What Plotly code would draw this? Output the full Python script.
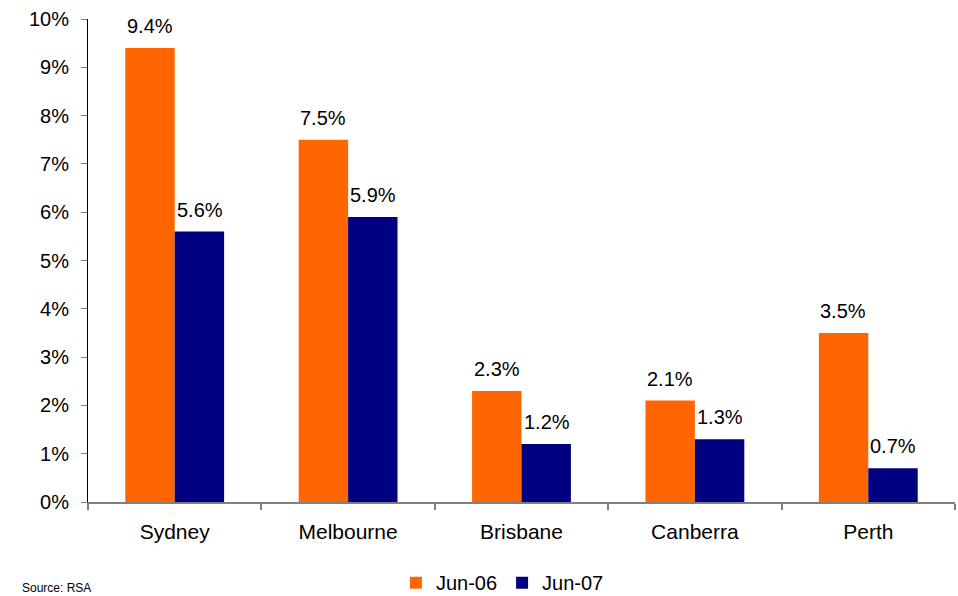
import plotly.graph_objects as go

cities = ["Sydney", "Melbourne", "Brisbane", "Canberra", "Perth"]
jun06 = [9.4, 7.5, 2.3, 2.1, 3.5]
jun07 = [5.6, 5.9, 1.2, 1.3, 0.7]
series_names = ["Jun-06", "Jun-07"]
colors = ["#FF6600", "#000080"]

FONT = "Liberation Sans, Arial"

fig = go.Figure()
for name, vals, col in zip(series_names, [jun06, jun07], colors):
    fig.add_trace(go.Bar(x=cities, y=vals, name=name, marker=dict(color=col, line=dict(width=0))))

annotations = []
for vals, shift in [(jun06, -25), (jun07, 25)]:
    for c, v in zip(cities, vals):
        annotations.append(dict(x=c, y=v, xref="x", yref="y", text=f"{v:.1f}%",
                                showarrow=False, xshift=shift, yshift=22,
                                font=dict(family=FONT, size=20, color="#000")))
annotations.append(dict(x=-0.078, y=-0.196, xref="paper", yref="paper", xanchor="left", yanchor="bottom",
                        text="Source: RSA", showarrow=False,
                        font=dict(family=FONT, size=12, color="#000")))

fig.update_layout(
    width=958, height=596,
    margin=dict(l=88, r=3, t=19, b=94, autoexpand=False),
    paper_bgcolor="white", plot_bgcolor="white",
    barmode="group", bargap=0.43, bargroupgap=0,
    font=dict(family=FONT, size=20, color="#000"),
    showlegend=True,
    legend=dict(orientation="h", x=0.478, xanchor="center", y=-0.167, yanchor="middle",
                font=dict(size=20), itemwidth=30, traceorder="normal"),
    annotations=annotations,
    xaxis=dict(showline=True, linecolor="#808080", linewidth=2, ticks="outside", tickson="boundaries",
               ticklen=6, tickcolor="#808080", tickwidth=1.5, showgrid=False, zeroline=False,
               tickfont=dict(size=21), ticklabelstandoff=10, automargin=False),
    yaxis=dict(range=[0, 10], dtick=1, ticksuffix="%", showline=True, linecolor="#000", linewidth=1,
               ticks="outside", ticklen=6, tickcolor="#808080", showgrid=False, zeroline=False,
               tickfont=dict(size=20), ticklabelstandoff=8, automargin=False),
)

fig.write_html("out.html")
